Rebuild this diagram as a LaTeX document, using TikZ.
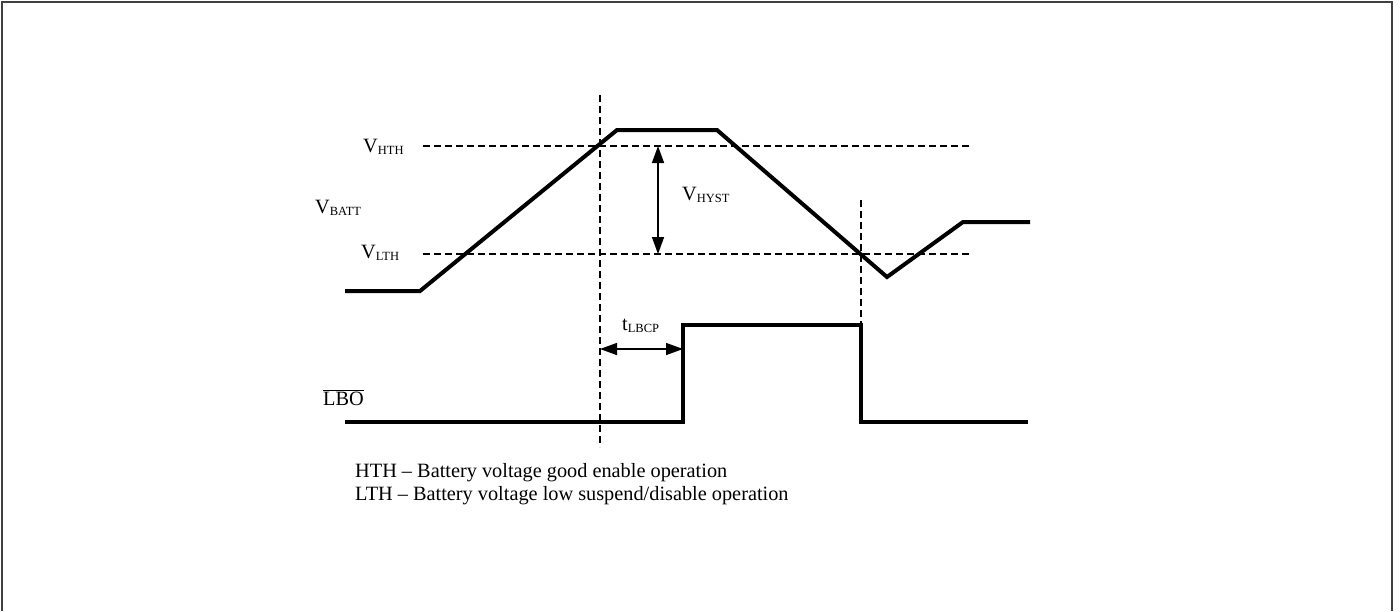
\documentclass[tikz,border=0pt]{standalone}
\usepackage{fontspec}
\setmainfont{Liberation Serif}
\usetikzlibrary{arrows.meta}
\newcommand{\sublbl}[2]{#1\raisebox{-0.25ex}{\fontsize{12.5}{13}\selectfont #2}}

\begin{document}
\begin{tikzpicture}[x=1pt,y=-1pt,>=Stealth,
  wave/.style={line width=4pt,line join=miter},
  guide/.style={dash pattern=on 7pt off 4pt,line width=1.5pt},
  dim/.style={{Triangle[length=17pt,width=12pt]}-{Triangle[length=17pt,width=12pt]},line width=1.5pt},
  txt/.style={anchor=base west,inner sep=0pt,font=\fontsize{20.3}{23}\selectfont}]
  \useasboundingbox (0,0) rectangle (1400,611);
  \draw[line width=2pt,draw=black!75] (1.5,611) -- (1.5,1.5) -- (1392,1.5) -- (1392,611);
  % threshold levels and timing marks
  \draw[guide] (423,146) -- (972,146);
  \draw[guide] (423,254) -- (972,254);
  \draw[guide] (600,95) -- (600,447);
  \draw[guide] (861,200) -- (861,325);
  % battery voltage
  \draw[wave] (345,291) -- (420,291) -- (617,130) -- (717,130) -- (887,277) -- (963,222) -- (1030,222);
  % LBO output
  \draw[wave] (345,422) -- (683,422) -- (683,325) -- (861,325) -- (861,422) -- (1028,422);
  % hysteresis and delay
  \coordinate (hystTop) at (658,146);
  \coordinate (hystBot) at (658,254);
  \draw[dim] (hystTop) -- (hystBot);
  \coordinate (dlyL) at (600,349);
  \coordinate (dlyR) at (683,349);
  \draw[dim] (dlyL) -- (dlyR);
  % labels
  \node[txt] (vhth) at (363,152) {\sublbl{V}{HTH}};
  \node[txt] (vbatt) at (315,213) {\sublbl{V}{BATT}};
  \node[txt] (vlth) at (361,258) {\sublbl{V}{LTH}};
  \node[txt] (vhyst) at (682,200) {\sublbl{V}{HYST}};
  \node[txt] (tlbcp) at (622,330) {\sublbl{t}{LBCP}};
  \node[txt] (lbo) at (323,405) {$\overline{\mbox{LBO}}$};
  \node[txt] (noteH) at (355,477) {HTH -- Battery voltage good enable operation};
  \node[txt] (noteL) at (355,500) {LTH -- Battery voltage low suspend/disable operation};
\end{tikzpicture}
\end{document}
